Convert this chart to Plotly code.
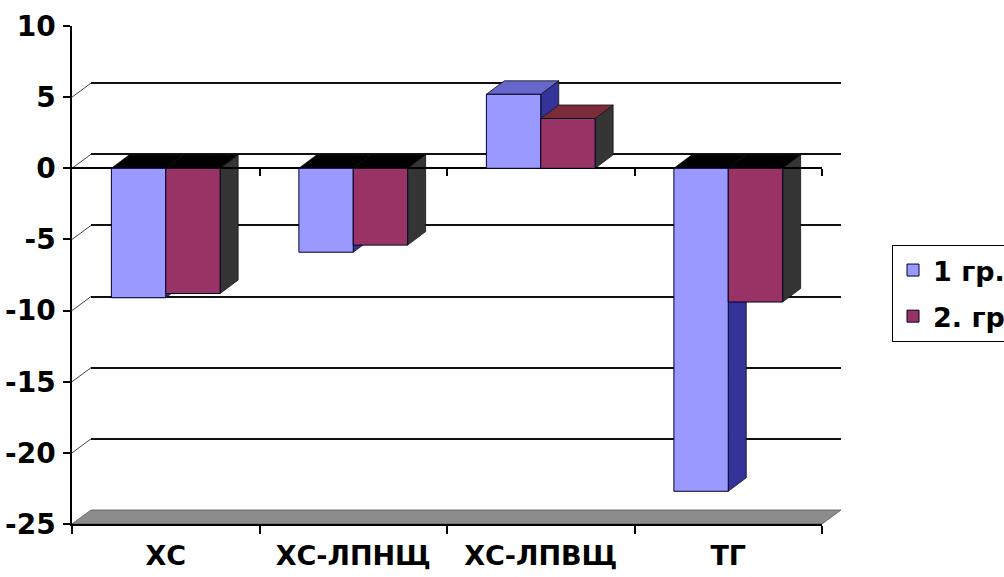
import plotly.graph_objects as go

# ---------------- data ----------------
categories = ["ХС", "ХС-ЛПНЩ", "ХС-ЛПВЩ", "ТГ"]
series_names = ["1 гр.", "2. гр"]
group1 = [-9.1, -5.9, 5.2, -22.7]
group2 = [-8.8, -5.4, 3.5, -9.4]
y_tick_values = [-25, -20, -15, -10, -5, 0, 5, 10]
y_tick_labels = ["-25", "-20", "-15", "-10", "-5", "0", "5", "10"]
back_grid_values = [-20, -15, -10, -5, 0, 5]

# ---------------- styling / geometry ----------------
W, H = 1004, 577
FX0, FX1 = 72, 822          # front plot area (px)
FY_TOP, FY_BOT = 26, 524
YMIN, YMAX = -25, 10
WALL_DX, WALL_DY = 19, 14    # depth of back wall (px)
BAR_DX, BAR_DY = 18, 13.5    # depth of bars (px)
BAR_W = 0.29

front_cols = ["#9999FF", "#993366"]
side_cols = ["#333399", "#353535"]
top_pos_cols = ["#6666CC", "#7B2B3A"]
top_neg_col = "#000000"

FONT = "DejaVu Sans"

ppu_y = (FY_BOT - FY_TOP) / (YMAX - YMIN)
ppu_x = (FX1 - FX0) / len(categories)
bdx = BAR_DX / ppu_x
bdy = BAR_DY / ppu_y
wdy = WALL_DY / ppu_y

front_xdom = [FX0 / W, FX1 / W]
front_ydom = [1 - FY_BOT / H, 1 - FY_TOP / H]
back_xdom = [(FX0 + WALL_DX) / W, (FX1 + WALL_DX) / W]
back_ydom = [1 - (FY_BOT - WALL_DY) / H, 1 - (FY_TOP - WALL_DY) / H]
zero_pos = front_ydom[0] + (front_ydom[1] - front_ydom[0]) * (0 - YMIN) / (YMAX - YMIN)

fig = go.Figure()

# dummy trace for the back wall subplot (xy)
fig.add_trace(go.Scatter(x=[0], y=[0], xaxis="x", yaxis="y", mode="markers",
                         marker=dict(opacity=0), showlegend=False, hoverinfo="skip"))

series = [group1, group2]
offsets = [-BAR_W, 0.0]
for s, vals in enumerate(series):
    fig.add_trace(go.Bar(
        x=categories, y=vals, name=series_names[s], xaxis="x2", yaxis="y2",
        width=BAR_W, offset=offsets[s], legendgroup=f"g{s}",
        marker=dict(color=front_cols[s], line=dict(color="#000022", width=1)),
    ))

# dummy trace for the zero-line category axis (x3)
fig.add_trace(go.Scatter(x=[0.5], y=[0], xaxis="x3", yaxis="y2", mode="markers",
                         marker=dict(opacity=0), showlegend=False, hoverinfo="skip"))

shapes = []
# 3D faces of bars
for i in range(len(categories)):
    for s, vals in enumerate(series):
        v = vals[i]
        xl = i + offsets[s]
        xr = xl + BAR_W
        side = f"M {xr},0 L {xr},{v} L {xr+bdx},{v+bdy} L {xr+bdx},{bdy} Z"
        shapes.append(dict(type="path", path=side, xref="x2", yref="y2", layer="between",
                           fillcolor=side_cols[s], line=dict(color="#111111", width=0.8)))
        t = v if v >= 0 else 0
        tc = top_pos_cols[s] if v >= 0 else top_neg_col
        top = f"M {xl},{t} L {xr},{t} L {xr+bdx},{t+bdy} L {xl+bdx},{t+bdy} Z"
        shapes.append(dict(type="path", path=top, xref="x2", yref="y2", layer="between",
                           fillcolor=tc, line=dict(color="#111111", width=0.8)))

# floor
fx0, fx1 = FX0 / W, FX1 / W
fdx = WALL_DX / W
floor = (f"M {fx0},{YMIN} L {fx1},{YMIN} L {fx1+fdx},{YMIN+wdy} "
         f"L {fx0+fdx},{YMIN+wdy} Z")
shapes.append(dict(type="path", path=floor, xref="paper", yref="y2", layer="below",
                   fillcolor="#8C8C8C", line=dict(color="#555555", width=0.8)))

# side-wall connectors from front ticks to back grid lines
for v in back_grid_values:
    shapes.append(dict(type="line", xref="paper", yref="y2", layer="below",
                       x0=fx0, y0=v, x1=fx0 + fdx, y1=v + wdy,
                       line=dict(color="#444444", width=1)))

fig.update_layout(
    width=W, height=H,
    margin=dict(l=0, r=0, t=0, b=0, autoexpand=False),
    paper_bgcolor="white", plot_bgcolor="rgba(0,0,0,0)",
    barmode="overlay",
    showlegend=True,
    shapes=shapes,
    font=dict(family=FONT, color="#000000"),
    # back wall
    xaxis=dict(domain=back_xdom, anchor="y", range=[-0.5, 3.5], visible=False),
    yaxis=dict(domain=back_ydom, anchor="x", range=[YMIN, YMAX],
               tickvals=back_grid_values, showgrid=True, gridcolor="#111111", gridwidth=1.5,
               showticklabels=False, ticks="", showline=False, zeroline=False),
    # front
    xaxis2=dict(domain=front_xdom, anchor="y2", type="category",
                categoryorder="array", categoryarray=categories,
                range=[-0.5, 3.5], tickson="boundaries", ticks="outside", ticklen=8,
                tickwidth=1.5, tickcolor="#000", showline=True, linecolor="#000",
                linewidth=1.5, showgrid=False, zeroline=False,
                tickfont=dict(family=FONT, size=27, weight="bold"),
                ticklabelstandoff=7),
    yaxis2=dict(domain=front_ydom, anchor="x2", range=[YMIN, YMAX],
                tickvals=y_tick_values, ticktext=y_tick_labels,
                ticks="outside", ticklen=7, tickwidth=1.5,
                tickcolor="#000", showline=True, linecolor="#000", linewidth=1.5,
                showgrid=False, zeroline=False,
                tickfont=dict(family=FONT, size=28, weight="bold"),
                ticklabelstandoff=2),
    xaxis3=dict(overlaying="x2", anchor="free", position=zero_pos,
                range=[-0.5, 3.5], tickvals=[0.5, 1.5, 2.5, 3.5],
                ticks="outside", ticklen=7, tickwidth=1.5, tickcolor="#000",
                showline=True, linecolor="#000", linewidth=1.5,
                showticklabels=False, showgrid=False, zeroline=False,
                layer="below traces"),
    legend=dict(x=892 / W, y=1 - 245 / H, xanchor="left", yanchor="top",
                bordercolor="#000000", borderwidth=1, bgcolor="white",
                font=dict(family=FONT, size=27, weight="bold", color="#000"),
                tracegroupgap=8),
)

fig.write_html("out.html")
